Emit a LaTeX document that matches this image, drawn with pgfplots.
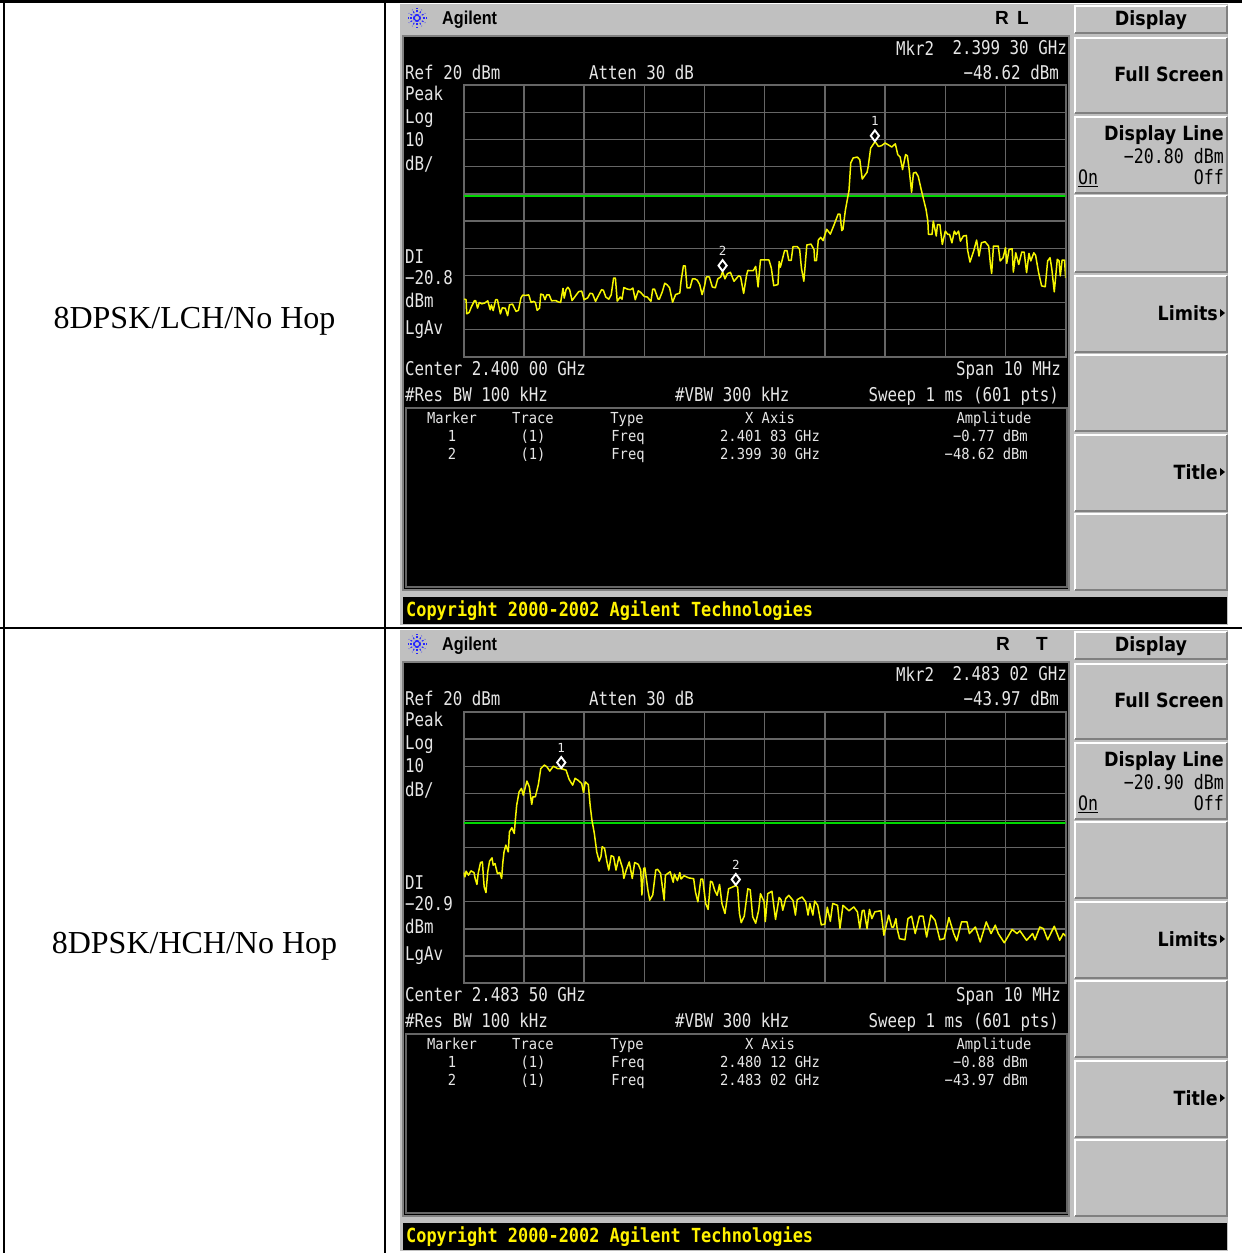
\documentclass[border=0pt]{standalone}
\usepackage{fontspec}
\usepackage{graphicx}
\usepackage{pgfplots}
\pgfplotsset{compat=1.18}
\setmainfont{Liberation Serif}
\newfontfamily\monof{DejaVu Sans Mono}
\newfontfamily\headf{Liberation Sans}
\newfontfamily\softf{DejaVu Sans}
\definecolor{panel}{HTML}{C0C0C0}
\definecolor{gridc}{HTML}{666666}
\definecolor{trace}{HTML}{F6F600}
\definecolor{dline}{HTML}{00D800}
\definecolor{scrtxt}{HTML}{E6E6E6}
\newcommand\T[4]{\node[anchor=#1,inner sep=0pt,text=scrtxt,yshift=-2pt] at (#2,#3) {\fontsize{15.8}{18}\monof\scalebox{1}[1.2]{\vphantom{Ag}#4}};}
\newcommand\M[4]{\node[anchor=#1,inner sep=0pt,text=scrtxt,yshift=-1.5pt] at (#2,#3) {\fontsize{13.8}{16}\monof\scalebox{1}[1.1]{\vphantom{Ag}#4}};}
\newcommand\K[4]{\node[anchor=#1,inner sep=0pt,text=black,yshift=-2pt] at (#2,#3) {\fontsize{16.6}{18}\monof\scalebox{1}[1.2]{\vphantom{Ag}#4}};}
\newcommand\KB[4]{\node[anchor=#1,inner sep=0pt,text=black,yshift=-2pt] at (#2,#3) {\fontsize{17.5}{18}\softf\bfseries\scalebox{1}[1.12]{\vphantom{Ag}#4}};}
\newcommand\btn[2]{%
  \fill[panel] (1074,#1) rectangle (1228,#2);
  \draw[white,line width=2pt] (1075,#2) -- (1075,#1) -- (1227,#1);
  \draw[gray,line width=2pt] (1075,#2) -- (1227,#2) -- (1227,#1);
}
% #1 y offset, #2 Mkr freq, #3 Mkr amp, #4 centre, #5 DL, #6 DL softkey, #7 m1 x, #8 m1 amp, #9 header right
\newcommand\panelbg[9]{%
\begin{scope}[yshift=-#1pt]
  \fill[panel] (400,4) rectangle (1228,625);
  \fill[black] (403,36) rectangle (1069,590);
  \draw[gray,line width=2pt] (403,36) rectangle (1069,590);
  \fill[black] (403,597) rectangle (1227,624);
  \draw[gridc,line width=2pt] (406,408) rectangle (1067,587);
  \btn{6}{33}\btn{38}{113}\btn{117}{193}\btn{196}{272}\btn{276}{352}\btn{355}{431}\btn{435}{511}\btn{514}{590}
  \foreach \a in {0,30,...,330}{\draw[blue!85!white,line width=1.1pt,dash pattern=on 2pt off 1.5pt] (417,18)++(\a:2pt) -- ++(\a:7.5pt);}
  \node[anchor=west,inner sep=0pt,yshift=-2pt] at (442,18) {\fontsize{16.2}{18}\headf\bfseries\scalebox{1}[1.15]{\vphantom{Ag}Agilent}};
  #9
  \T{west}{896}{48}{Mkr2}\T{east}{1067}{48}{#2}
  \T{east}{1059}{72}{#3}
  \T{west}{405}{72}{Ref 20 dBm}\T{west}{589}{72}{Atten 30 dB}
  \T{west}{405}{93}{Peak}\T{west}{405}{117}{Log}\T{west}{405}{140}{10}\T{west}{405}{163}{dB/}
  \T{west}{405}{257}{DI}\T{west}{405}{278}{−#5}\T{west}{405}{300}{dBm}\T{west}{405}{328}{LgAv}
  \T{west}{405}{369}{Center #4 GHz}\T{east}{1061}{369}{Span 10 MHz}
  \T{west}{405}{394}{\#Res BW 100 kHz}\T{west}{675}{394}{\#VBW 300 kHz}\T{east}{1059}{394}{Sweep 1 ms (601 pts)}
  \M{center}{452}{418}{Marker}\M{center}{533}{418}{Trace}\M{center}{627}{418}{Type}\M{center}{770}{418}{X Axis}\M{center}{994}{418}{Amplitude}
  \M{center}{452}{436}{1}\M{center}{533}{436}{(1)}\M{center}{628}{436}{Freq}\M{center}{770}{436}{#7}\M{east}{1028}{436}{#8}
  \M{center}{452}{454}{2}\M{center}{533}{454}{(1)}\M{center}{628}{454}{Freq}\M{center}{770}{454}{#2}\M{east}{1028}{454}{#3}
  \KB{center}{1151}{18}{Display}\KB{east}{1224}{74}{Full Screen}\KB{east}{1224}{133}{Display Line}
  \K{east}{1224}{156}{#6 dBm}\K{west}{1078}{177}{\underline{On}}\K{east}{1224}{177}{Off}
  \KB{east}{1218}{313}{Limits}\KB{east}{1218}{472}{Title}
  \fill[black] (1220,309) -- (1225,313) -- (1220,317) -- cycle;
  \fill[black] (1220,468) -- (1225,472) -- (1220,476) -- cycle;
  \node[anchor=west,inner sep=0pt,text=yellow] at (406,610.5) {\fontsize{16.9}{18}\monof\bfseries\scalebox{1}[1.15]{Copyright 2000-2002 Agilent Technologies}};
\end{scope}}
\pgfplotsset{spec/.style={scale only axis,width=602pt,height=271.2pt,anchor=south west,
  xmin=0,xmax=10,ymin=-80,ymax=20,xtick={0,1,...,10},ytick={-80,-70,...,20},
  xticklabel=\empty,yticklabel=\empty,major tick length=0pt,
  grid=major,grid style={gridc,line width=1.3pt},axis line style={gridc,line width=2pt},clip=true},
  tr/.style={trace,line width=1.5pt,line join=round,no markers},
  dl/.style={dline,line width=2pt,no markers},
  mk/.style={only marks,mark=diamond*,mark size=5.5pt,mark options={fill=black,draw=white,line width=1.9pt,yshift=6pt}}}
\begin{document}
\begin{tikzpicture}[x=1pt,y=1pt]
\useasboundingbox (0,0) rectangle (1242,1253);
\fill[white] (0,0) rectangle (1242,1253);
\begin{scope}[x=1pt,y=-1pt,yshift=1253pt]
\panelbg{0}{2.399 30 GHz}{−48.62 dBm}{2.400 00}{20.8}{−20.80}{2.401 83 GHz}{−0.77 dBm}{\node[inner sep=0pt] at (1002,18) {\fontsize{19}{20}\headf\bfseries R};\node[inner sep=0pt] at (1023,18) {\fontsize{19}{20}\headf\bfseries L};}
\panelbg{626}{2.483 02 GHz}{−43.97 dBm}{2.483 50}{20.9}{−20.90}{2.480 12 GHz}{−0.88 dBm}{\node[inner sep=0pt] at (1003,18) {\fontsize{19}{20}\headf\bfseries R};\node[inner sep=0pt] at (1042,18) {\fontsize{19}{20}\headf\bfseries T};}
\node[inner sep=0pt] at (194.5,321) {\fontsize{32}{36}\selectfont 8DPSK/LCH/No Hop};
\node[inner sep=0pt] at (194.5,946) {\fontsize{32}{36}\selectfont 8DPSK/HCH/No Hop};
% table rules
\draw[black,line width=3pt] (0,2) -- (1242,2);
\draw[black,line width=2pt] (0,628.5) -- (1242,628.5);
\draw[black,line width=2pt] (4,0) -- (4,1253);
\draw[black,line width=2pt] (384.5,0) -- (384.5,1253);
\end{scope}
% x: MHz from the left edge of the 10 MHz span, y: dBm
\begin{axis}[spec,at={(463.7pt,896.3pt)}]
\addplot[dl] coordinates {(0,-20.8) (10,-20.8)};
\addplot[tr] coordinates {
(0.01,-58.7)(0.04,-59.0)(0.05,-64.2)(0.09,-63.7)(0.13,-61.5)(0.18,-59.3)(0.20,-59.4)(0.23,-62.1)(0.26,-60)(0.30,-60.5)
(0.35,-60.2)(0.40,-59.4)(0.44,-62.7)(0.46,-60.9)(0.49,-63.0)(0.53,-59.0)(0.56,-59.0)(0.61,-64.2)(0.64,-62.0)(0.69,-62.1)
(0.73,-64.9)(0.76,-60.9)(0.81,-60.6)(0.87,-63.3)(0.91,-62.9)(0.95,-58.4)(0.98,-57.3)(1.03,-57.4)(1.08,-57.2)(1.12,-60)
(1.16,-59.6)(1.19,-60)(1.22,-62.9)(1.26,-62.1)(1.28,-56.9)(1.32,-57.2)(1.35,-59.0)(1.38,-57.2)(1.42,-57.2)(1.46,-59.4)
(1.53,-59.3)(1.57,-59.8)(1.61,-60)(1.65,-54.8)(1.67,-58.4)(1.70,-55.3)(1.73,-54.4)(1.76,-55.3)(1.80,-59.3)(1.86,-57.5)
(1.91,-56.0)(1.96,-55.8)(2.00,-59.0)(2.06,-58.3)(2.10,-56.6)(2.14,-56.8)(2.19,-59.6)(2.23,-57.8)(2.29,-55.3)(2.32,-55.5)
(2.36,-58.0)(2.41,-58.8)(2.45,-57.2)(2.49,-51.0)(2.52,-51.0)(2.55,-59.5)(2.60,-58.0)(2.63,-58.8)(2.66,-54.5)(2.72,-55.1)
(2.77,-55.3)(2.81,-54.7)(2.85,-59.0)(2.90,-55.7)(2.94,-56.3)(3.00,-57.8)(3.05,-58.0)(3.11,-59.6)(3.14,-55.1)(3.17,-55.1)
(3.23,-58.8)(3.25,-58.8)(3.30,-56.0)(3.34,-52.9)(3.38,-53.5)(3.42,-54.6)(3.47,-59.9)(3.52,-57.1)(3.59,-56.5)(3.61,-52.2)
(3.65,-46.5)(3.68,-46.5)(3.71,-54.6)(3.76,-54.6)(3.80,-51.3)(3.84,-51.3)(3.88,-51.8)(3.92,-53.4)(3.96,-57.1)(4.00,-54.0)
(4.03,-50.6)(4.08,-50.6)(4.13,-54.3)(4.18,-54.6)(4.22,-51.3)(4.27,-50.6)(4.30,-48.6)(4.34,-51.3)(4.38,-49.4)(4.43,-48.9)
(4.49,-52.2)(4.57,-50.1)(4.60,-50.6)(4.65,-56.7)(4.70,-49.8)(4.72,-48.2)(4.81,-48.3)(4.85,-46.7)(4.89,-54.3)(4.93,-44.3)
(5.07,-44.3)(5.11,-47.3)(5.15,-53.8)(5.22,-53.4)(5.24,-44.9)(5.26,-47.0)(5.33,-40.9)(5.37,-40.9)(5.40,-44.5)(5.44,-44.5)
(5.47,-39.4)(5.54,-39.4)(5.58,-40.4)(5.61,-47.3)(5.65,-52.2)(5.70,-38.8)(5.77,-38.5)(5.82,-40.6)(5.83,-44.6)(5.86,-44.6)
(5.89,-37.0)(5.93,-36.0)(5.97,-37.2)(6.03,-33.0)(6.09,-34.8)(6.15,-31.5)(6.22,-27.4)(6.25,-27.4)(6.28,-33.5)(6.30,-33.0)
(6.34,-26.0)(6.40,-18.7)(6.43,-8.5)(6.47,-6.7)(6.54,-6.4)(6.58,-7.4)(6.60,-11)(6.62,-14.5)(6.70,-12)(6.72,-9.8)
(6.76,-3.1)(6.83,-0.8)(6.85,-1.2)(6.89,-2.5)(6.94,-2.2)(7.00,-1.2)(7.07,-2.1)(7.11,-2.7)(7.17,-1.5)(7.21,-5.5)
(7.25,-6.4)(7.29,-11)(7.34,-5.5)(7.37,-5.9)(7.40,-11)(7.44,-19.4)(7.47,-12.3)(7.51,-12)(7.55,-13.5)(7.60,-18.4)
(7.64,-22.1)(7.68,-25.7)(7.71,-30)(7.72,-34.9)(7.78,-34.9)(7.80,-30)(7.85,-35.5)(7.87,-31.3)(7.91,-31.3)(7.95,-38.6)
(8.00,-33.7)(8.04,-34.9)(8.07,-34.9)(8.11,-38)(8.15,-33.7)(8.18,-34.9)(8.22,-33.7)(8.25,-37.4)(8.30,-35.5)(8.35,-35.3)
(8.37,-40.7)(8.41,-45.1)(8.47,-41.1)(8.52,-37)(8.56,-42.9)(8.60,-38)(8.66,-37.6)(8.72,-39.2)(8.75,-46)(8.77,-49.3)
(8.80,-39.2)(8.88,-39.2)(8.91,-44.7)(8.96,-43.5)(9.00,-39.8)(9.02,-45.6)(9.06,-40.4)(9.11,-40.2)(9.13,-48.8)(9.17,-41.7)
(9.22,-46)(9.27,-41.4)(9.31,-41.4)(9.35,-49)(9.39,-41.9)(9.42,-44.7)(9.47,-41.7)(9.50,-42.6)(9.55,-49)(9.60,-53.9)
(9.66,-54.2)(9.70,-44.7)(9.74,-43.5)(9.77,-47.8)(9.81,-56.1)(9.86,-44.1)(9.89,-44.7)(9.91,-50.2)(9.94,-44.4)(9.98,-44.4)(10,-50.9)};
\addplot[mk] coordinates {(6.83,-0.77)(4.30,-48.62)};
\node[text=scrtxt,inner sep=0pt] at (axis cs:6.83,-0.77) [yshift=21pt] {\fontsize{12.5}{13}\monof 1};
\node[text=scrtxt,inner sep=0pt] at (axis cs:4.30,-48.62) [yshift=21pt] {\fontsize{12.5}{13}\monof 2};
\end{axis}
\begin{axis}[spec,height=271.3pt,at={(463.7pt,269.8pt)}]
\addplot[dl] coordinates {(0,-20.9) (10,-20.9)};
\addplot[tr] coordinates {
(0.0,-39.2)(0.02,-40.8)(0.04,-38.7)(0.08,-40.2)(0.12,-38.6)(0.17,-39.2)(0.19,-41.4)(0.22,-43.6)(0.24,-39.6)(0.28,-35.5)
(0.31,-35.3)(0.34,-44.5)(0.37,-46.6)(0.40,-38.9)(0.43,-35)(0.47,-33.8)(0.49,-36.5)(0.52,-35.9)(0.56,-39.6)(0.60,-39.2)
(0.63,-41.4)(0.65,-35.5)(0.67,-31.6)(0.70,-29.1)(0.74,-31.6)(0.76,-24.2)(0.80,-22.7)(0.84,-24.8)(0.86,-19.3)(0.88,-14.4)
(0.92,-9.5)(0.96,-8.2)(0.99,-10.7)(1.05,-5.5)(1.09,-7.6)(1.13,-14.1)(1.15,-11.3)(1.19,-11.3)(1.24,-6.8)(1.28,-0.9)
(1.34,0.4)(1.38,-0.2)(1.43,-1.8)(1.49,0)(1.56,-0.9)(1.62,-0.9)(1.70,-1.5)(1.75,-4.8)(1.81,-7)(1.85,-4.5)
(1.90,-5.2)(1.96,-6.4)(1.99,-9.7)(2.02,-5.8)(2.07,-6.8)(2.10,-14.4)(2.13,-19.9)(2.17,-24.8)(2.21,-31.6)(2.25,-35)
(2.28,-33.4)(2.30,-29.7)(2.34,-30.3)(2.38,-35.3)(2.41,-38.3)(2.45,-33)(2.49,-33.4)(2.53,-38.3)(2.58,-33.4)(2.64,-37.7)
(2.66,-41.4)(2.70,-38.3)(2.75,-35.3)(2.80,-41.4)(2.84,-35.5)(2.90,-36.2)(2.94,-38.3)(2.96,-47.5)(2.99,-37.7)(3.01,-37.5)
(3.06,-45.7)(3.09,-49.4)(3.14,-47.5)(3.19,-38.3)(3.22,-38)(3.27,-39.5)(3.33,-49.4)(3.35,-40.2)(3.43,-38.9)(3.48,-42.8)
(3.50,-39.8)(3.55,-42.2)(3.59,-39.2)(3.61,-41.6)(3.66,-40.4)(3.74,-41.2)(3.82,-41.5)(3.85,-46.4)(3.89,-50)(3.94,-41.6)
(3.97,-41.6)(4.02,-50.7)(4.06,-52.8)(4.10,-42.4)(4.13,-42.8)(4.17,-45.8)(4.21,-47.6)(4.25,-43.6)(4.29,-50.7)(4.34,-54.3)
(4.40,-45.2)(4.52,-44.0)(4.55,-44.6)(4.58,-54.3)(4.61,-57.7)(4.66,-55.3)(4.72,-45.2)(4.76,-45.6)(4.80,-55.5)(4.85,-57.9)
(4.90,-53.1)(4.93,-47)(4.99,-50)(5.01,-57.3)(5.05,-47)(5.12,-46.1)(5.18,-56.5)(5.24,-48.4)(5.27,-49.2)(5.30,-53.1)
(5.35,-48.8)(5.40,-47.6)(5.47,-49.5)(5.51,-54.9)(5.54,-49.2)(5.62,-48.2)(5.68,-50)(5.72,-54.9)(5.75,-50.6)(5.80,-54.9)
(5.83,-49.7)(5.88,-51.3)(5.94,-58.5)(6.00,-58.2)(6.04,-52)(6.09,-57.2)(6.13,-50.6)(6.21,-51.3)(6.25,-59.8)(6.30,-51.3)
(6.33,-51.9)(6.40,-53.3)(6.48,-51.9)(6.54,-53.7)(6.58,-59.8)(6.62,-53.3)(6.65,-53.1)(6.70,-59.9)(6.74,-52.8)(6.78,-56.2)
(6.83,-53.7)(6.93,-53.3)(6.98,-62.3)(7.06,-54.9)(7.11,-59.3)(7.14,-59.3)(7.18,-56.2)(7.20,-59.9)(7.24,-63.6)(7.33,-64)
(7.38,-56.2)(7.44,-55.3)(7.50,-61.7)(7.57,-55.3)(7.63,-55.3)(7.69,-63)(7.76,-54.9)(7.83,-56.8)(7.91,-64)(7.98,-63.6)
(8.06,-55.8)(8.14,-61.7)(8.19,-64.4)(8.27,-57.4)(8.36,-57.4)(8.40,-61.7)(8.50,-59.3)(8.58,-64.8)(8.68,-57.4)(8.76,-61.7)
(8.83,-58.6)(8.88,-61.7)(8.98,-65.1)(9.11,-60.2)(9.19,-61.7)(9.24,-60.7)(9.35,-64.2)(9.45,-61.7)(9.49,-64)(9.57,-59.3)
(9.63,-59.9)(9.70,-64)(9.81,-59)(9.90,-64.2)(9.96,-61.7)(10,-62.7)};
\addplot[mk] coordinates {(1.62,-0.88)(4.52,-43.97)};
\node[text=scrtxt,inner sep=0pt] at (axis cs:1.62,-0.88) [yshift=21pt] {\fontsize{12.5}{13}\monof 1};
\node[text=scrtxt,inner sep=0pt] at (axis cs:4.52,-43.97) [yshift=21pt] {\fontsize{12.5}{13}\monof 2};
\end{axis}
\end{tikzpicture}
\end{document}
